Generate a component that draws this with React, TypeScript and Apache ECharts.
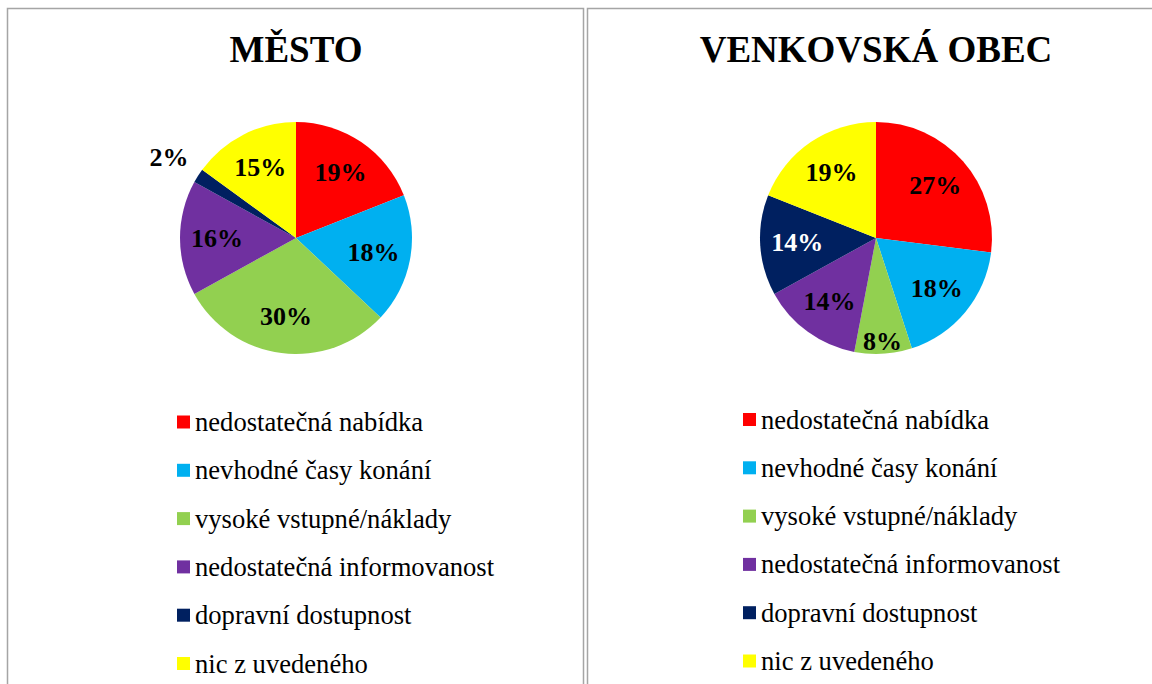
import { useEffect, useRef } from "react";
import * as echarts from "echarts";

const categories = [
  "nedostatečná nabídka",
  "nevhodné časy konání",
  "vysoké vstupné/náklady",
  "nedostatečná informovanost",
  "dopravní dostupnost",
  "nic z uvedeného",
];
const sliceColors = ["#FF0000", "#00B0F0", "#92D050", "#7030A0", "#002060", "#FFFF00"];
const mestoValues = [19, 18, 30, 16, 2, 15];
const venkovValues = [27, 18, 8, 14, 14, 19];
const panelTitles = ["MĚSTO", "VENKOVSKÁ OBEC"];

const FONT = "'Liberation Serif', 'Times New Roman', Times, serif";
const R = 116;
const DARK = "#002060";

function pieSeries(values: number[], center: number[]) {
  const total = values.reduce((a, b) => a + b, 0);
  const base: any = {
    type: "pie",
    center,
    startAngle: 90,
    clockwise: true,
    silent: true,
    avoidLabelOverlap: false,
    labelLine: { show: false },
    emphasis: { disabled: true },
  };
  const main = {
    ...base,
    radius: [0, R],
    label: { show: false },
    data: values.map((v, i) => ({
      name: categories[i],
      value: v,
      itemStyle: { color: sliceColors[i] },
    })),
  };
  const labelSeries = (radius: number, test: (p: number) => boolean, inner: boolean) => ({
    ...base,
    radius: [0, radius],
    itemStyle: { color: "rgba(0,0,0,0)" },
    data: values.map((v, i) => {
      const pct = (v / total) * 100;
      return {
        name: categories[i],
        value: v,
        itemStyle: { color: "rgba(0,0,0,0)" },
        label: {
          show: test(pct),
          position: "inside",
          formatter: Math.round(pct) + "%",
          color: inner && sliceColors[i] === DARK ? "#FFFFFF" : "#000000",
          fontFamily: FONT,
          fontWeight: "bold",
          fontSize: 26,
        },
      };
    }),
  });
  return [
    main,
    labelSeries(R * 1.31, (p) => p >= 10, true),
    labelSeries(R * 1.74, (p) => p >= 5 && p < 10, true),
    labelSeries(R * 2.54, (p) => p < 5, false),
  ];
}

export default function App() {
  const ref = useRef<HTMLDivElement>(null);
  useEffect(() => {
    if (!ref.current) return;
    const chart = echarts.init(ref.current, undefined, { renderer: "svg" });
    const centers = [
      [296, 238],
      [876, 238],
    ];
    chart.setOption({
      animation: false,
      backgroundColor: "#FFFFFF",
      graphic: [
        {
          type: "rect",
          shape: { x: 7.5, y: 8.5, width: 576, height: 700 },
          style: { fill: "none", stroke: "#A5A5A5", lineWidth: 1.5 },
          silent: true,
        },
        {
          type: "rect",
          shape: { x: 587.5, y: 8.5, width: 700, height: 700 },
          style: { fill: "none", stroke: "#A5A5A5", lineWidth: 1.5 },
          silent: true,
        },
      ],
      title: panelTitles.map((t, i) => ({
        text: t,
        left: centers[i][0],
        top: 49,
        textAlign: "center",
        textVerticalAlign: "middle",
        padding: 0,
        textStyle: { fontFamily: FONT, fontWeight: "bold", fontSize: 37, color: "#000000" },
      })),
      legend: [177, 743].map((x, i) => ({
        orient: "vertical",
        left: x,
        top: [407, 404.5][i],
        padding: 0,
        itemWidth: 13,
        itemHeight: 13,
        itemGap: 18.3,
        icon: "rect",
        selectedMode: false,
        data: categories,
        textStyle: { fontFamily: FONT, fontSize: 26.6, color: "#000000", lineHeight: 30 },
      })),
      series: [...pieSeries(mestoValues, centers[0]), ...pieSeries(venkovValues, centers[1])],
    });
    return () => chart.dispose();
  }, []);
  return (
    <div
      ref={ref}
      style={{ position: "fixed", left: 0, top: 0, width: 1152, height: 684, background: "#fff" }}
    />
  );
}
